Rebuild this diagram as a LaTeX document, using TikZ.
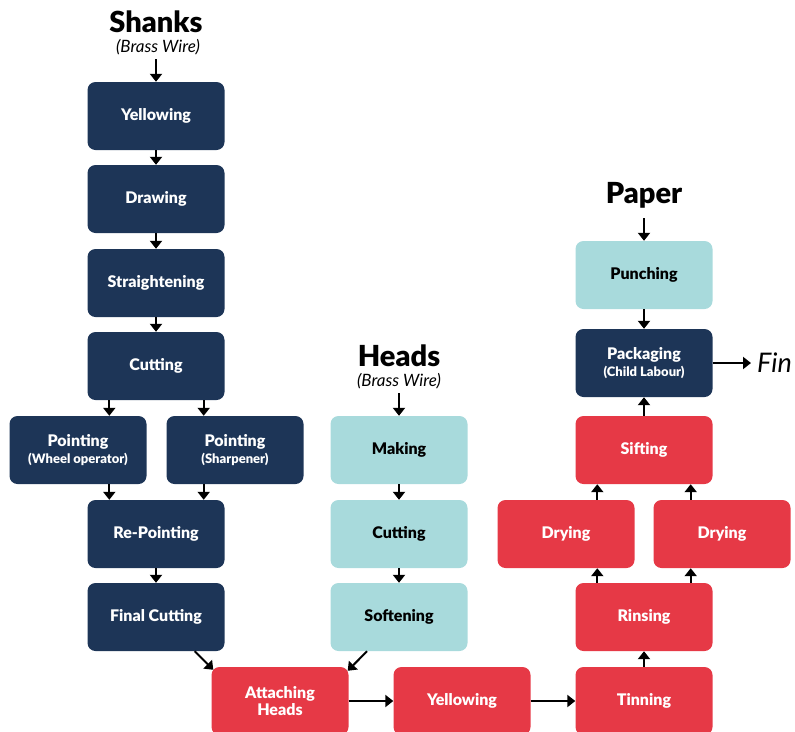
\documentclass[tikz,border=0pt]{standalone}
\usepackage{fontspec}
\setmainfont{Lato}[BoldFont={Lato Black}]
\usetikzlibrary{arrows.meta}

\definecolor{pinnavy}{HTML}{1D3557}
\definecolor{pinteal}{HTML}{A8DADC}
\definecolor{pinred}{HTML}{E63946}

\tikzset{
  stage/.style={rounded corners=8pt, minimum width=137pt, minimum height=68pt,
    inner sep=2pt, align=center, font=\bfseries\fontsize{16}{17}\selectfont},
  navybox/.style={stage, fill=pinnavy, text=white},
  tealbox/.style={stage, fill=pinteal, text=black},
  redbox/.style={stage, fill=pinred, text=white},
  title/.style={font=\bfseries\fontsize{29}{30}\selectfont, inner sep=0pt},
  subtitle/.style={font=\itshape\fontsize{17}{18}\selectfont, inner sep=0pt},
  flow/.style={-{Triangle[width=12pt,length=8pt]}, line width=2pt}
}
\newcommand{\subline}[1]{\\[0pt]{\fontsize{13}{14}\selectfont #1}}

\begin{document}
\begin{tikzpicture}[x=1pt,y=-1pt]
    \clip (0,0) rectangle (795,731);

    % Shanks
    \node[title] (shanks) at (156,22) {Shanks};
    \node[subtitle] (shanksSub) at (158,47) {(Brass Wire)};
    \node[navybox] (yell1) at (156,116) {Yellowing};
    \node[navybox] (draw) at (156,199) {Drawing};
    \node[navybox] (straight) at (156,283) {Straightening};
    \node[navybox] (cut1) at (156,366) {Cutting};
    \node[navybox] (pointA) at (78,450) {Pointing\subline{(Wheel operator)}};
    \node[navybox] (pointB) at (235,450) {Pointing\subline{(Sharpener)}};
    \node[navybox] (repoint) at (156,534) {Re-Pointing};
    \node[navybox] (final) at (156,617) {Final Cutting};

    % Heads
    \node[title] (heads) at (399,356) {Heads};
    \node[subtitle] (headsSub) at (399,381) {(Brass Wire)};
    \node[tealbox] (making) at (399,450) {Making};
    \node[tealbox] (cut2) at (399,534) {Cutting};
    \node[tealbox] (soften) at (399,617) {Softening};

    % Bottom row
    \node[redbox] (attach) at (280,701) {Attaching\\[0pt]Heads};
    \node[redbox] (yell2) at (462,701) {Yellowing};
    \node[redbox] (tin) at (644,701) {Tinning};

    % Paper
    \node[title] (paper) at (644,195) {Paper};
    \node[tealbox] (punch) at (644,275) {Punching};
    \node[navybox] (pack) at (644,363) {Packaging\subline{(Child Labour)}};
    \node[redbox] (sift) at (644,450) {Sifting};
    \node[redbox] (dryA) at (566,534) {Drying};
    \node[redbox] (dryB) at (722,534) {Drying};
    \node[redbox] (rinse) at (644,617) {Rinsing};
    \node[font=\itshape\fontsize{27}{28}\selectfont, anchor=west, inner sep=0pt] (fin) at (757,363) {Fin};

    % Flechas - Shanks
    \draw[flow] ([yshift=-4pt]shanksSub.south -| yell1.north) -- (yell1.north);
    \draw[flow] (yell1) -- (draw);
    \draw[flow] (draw) -- (straight);
    \draw[flow] (straight) -- (cut1);
    \draw[flow] ([xshift=22pt]cut1.south west) -- ([xshift=22pt]cut1.south west |- pointA.north);
    \draw[flow] ([xshift=-21pt]cut1.south east) -- ([xshift=-21pt]cut1.south east |- pointB.north);
    \draw[flow] ([xshift=22pt]repoint.north west |- pointA.south) -- ([xshift=22pt]repoint.north west);
    \draw[flow] ([xshift=-21pt]repoint.north east |- pointB.south) -- ([xshift=-21pt]repoint.north east);
    \draw[flow] (repoint) -- (final);

    % Flechas - Heads
    \draw[flow] ([yshift=-4pt]headsSub.south) -- (making.north);
    \draw[flow] (making) -- (cut2);
    \draw[flow] (cut2) -- (soften);

    % Flechas - abajo
    \draw[flow] ([xshift=-30pt]final.south east) -- ([xshift=2pt,yshift=-3pt]attach.north west);
    \draw[flow] ([xshift=-32pt]soften.south) -- ([xshift=-1pt,yshift=-4pt]attach.north east);
    \draw[flow] (attach) -- (yell2);
    \draw[flow] (yell2) -- (tin);
    \draw[flow] (tin) -- (rinse);

    % Flechas - Paper
    \draw[flow] ([xshift=22pt]rinse.north west) -- ([xshift=22pt]rinse.north west |- dryA.south);
    \draw[flow] ([xshift=-22pt]rinse.north east) -- ([xshift=-22pt]rinse.north east |- dryB.south);
    \draw[flow] ([xshift=22pt]sift.south west |- dryA.north) -- ([xshift=22pt]sift.south west);
    \draw[flow] ([xshift=-22pt]sift.south east |- dryB.north) -- ([xshift=-22pt]sift.south east);
    \draw[flow] (sift) -- (pack);
    \draw[flow] ([yshift=-10pt]paper.south) -- (punch.north);
    \draw[flow] (punch) -- (pack);
    \draw[flow] (pack.east) -- ([xshift=-6pt]fin.west);
\end{tikzpicture}
\end{document}
